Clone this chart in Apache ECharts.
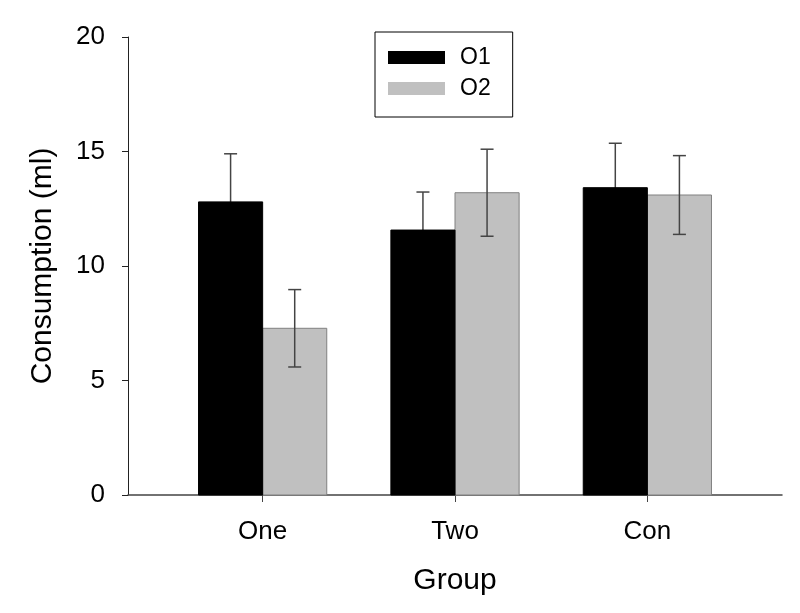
<!DOCTYPE html>
<html>
<head>
<meta charset="utf-8">
<script src="https://cdn.jsdelivr.net/npm/echarts@6/dist/echarts.min.js"></script>
<style>html,body{margin:0;padding:0;background:#fff;}#c{width:800px;height:613px;}</style>
</head>
<body>
<div id="c"></div>
<script>
const categories = ['One', 'Two', 'Con'];
const o1Values = [12.8, 11.57, 13.42];
const o2Values = [7.28, 13.2, 13.1];
const o1Errors = [2.1, 1.66, 1.94];
const o2Errors = [1.69, 1.9, 1.72];
const yTicks = [0, 5, 10, 15, 20];

const chart = echarts.init(document.getElementById('c'));
const FONT = 'Liberation Sans, Arial, sans-serif';

function makeSeries(name, values, errors, color, border, side) {
  const data = values.map((v, i) => [i + 1, v, errors[i]]);
  return {
    name: name,
    type: 'custom',
    itemStyle: { color: color },
    data: data,
    z: side === 0 ? 3 : 2,
    renderItem: function (params, api) {
      const x = api.value(0), v = api.value(1), e = api.value(2);
      const unit = api.size([1, 0])[0];
      const bw = unit / 3;
      const base = api.coord([x, 0]);
      const top = api.coord([x, v]);
      const left = side === 0 ? base[0] - bw : base[0];
      const cx = left + bw / 2;
      const hi = api.coord([x, v + e])[1];
      const lo = api.coord([x, v - e])[1];
      const rect = { type: 'rect', shape: { x: left, y: top[1], width: bw, height: base[1] - top[1] },
        style: { fill: color, stroke: border, lineWidth: 1 } };
      const lines = [
        { type: 'line', shape: { x1: cx, y1: hi, x2: cx, y2: lo }, style: { stroke: '#444', lineWidth: 1.5 } },
        { type: 'line', shape: { x1: cx - 6.5, y1: hi, x2: cx + 6.5, y2: hi }, style: { stroke: '#444', lineWidth: 1.5 } },
        { type: 'line', shape: { x1: cx - 6.5, y1: lo, x2: cx + 6.5, y2: lo }, style: { stroke: '#444', lineWidth: 1.5 } }
      ];
      return {
        type: 'group',
        children: side === 0 ? lines.concat([rect]) : [rect].concat(lines)
      };
    }
  };
}

chart.setOption({
  animation: false,
  backgroundColor: '#fff',
  grid: { left: 128, right: 18, top: 37, bottom: 118 },
  legend: {
    orient: 'vertical',
    left: 375, top: 32,
    data: ['O1', 'O2'],
    itemWidth: 57, itemHeight: 13, itemGap: 8,
    icon: 'rect',
    borderColor: '#000', borderWidth: 1,
    padding: [14, 22, 17, 13],
    textStyle: { fontFamily: FONT, fontSize: 23, color: '#000', lineHeight: 23, padding: [0, 0, 0, 10] },
    selectedMode: false
  },
  xAxis: {
    type: 'value', min: 0.3, max: 3.7,
    name: 'Group', nameLocation: 'middle', nameGap: 71,
    nameTextStyle: { fontFamily: FONT, fontSize: 30, color: '#000' },
    splitLine: { show: false },
    axisLine: { show: true, lineStyle: { color: '#444', width: 1.5 } },
    axisTick: { show: true, length: 7, customValues: [1, 2, 3], lineStyle: { color: '#444' } },
    axisLabel: { customValues: [1, 2, 3], formatter: v => categories[Math.round(v) - 1] || '',
      fontFamily: FONT, fontSize: 26, color: '#000', margin: 24 }
  },
  yAxis: {
    type: 'value', min: 0, max: 20, interval: 5,
    name: 'Consumption (ml)', nameLocation: 'middle', nameGap: 70,
    nameTextStyle: { fontFamily: FONT, fontSize: 30, color: '#000' },
    splitLine: { show: false },
    axisLine: { show: true, lineStyle: { color: '#222', width: 1 } },
    axisTick: { show: true, length: 6, lineStyle: { color: '#222' } },
    axisLabel: { fontFamily: FONT, fontSize: 26, color: '#000', margin: 23,
      formatter: v => yTicks.indexOf(v) >= 0 ? String(v) : '' }
  },
  series: [
    makeSeries('O1', o1Values, o1Errors, '#000000', '#000000', 0),
    makeSeries('O2', o2Values, o2Errors, '#c0c0c0', '#808080', 1)
  ]
});
</script>
</body>
</html>
